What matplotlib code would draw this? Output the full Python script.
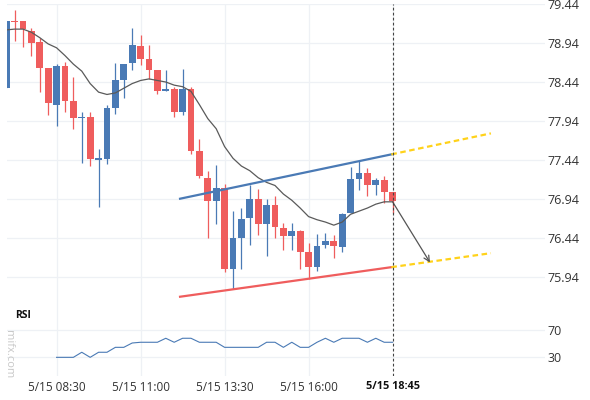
import numpy as np
import matplotlib
matplotlib.use('Agg')
import matplotlib.pyplot as plt

plt.rcParams['font.family'] = ['Open Sans', 'DejaVu Sans']

# Datos (velas de 15 min, indice 0 = primera vela)
opens = [78.36, 79.23, 79.22, 79.10, 78.95, 78.62, 78.15, 78.65, 78.19, 77.98,
         77.99, 77.45, 77.45, 78.10, 78.47, 78.68, 78.90, 78.73, 78.60, 78.32,
         78.35, 78.05, 78.35, 77.55, 77.21, 76.91, 77.08, 76.04, 76.44, 76.69,
         76.94, 76.61, 76.86, 76.56, 76.46, 76.52, 76.25, 76.06, 76.34, 76.40,
         76.32, 76.75, 77.19, 77.27, 77.12, 77.18, 77.02]
highs = [79.23, 79.37, 79.22, 79.14, 79.00, 78.62, 78.67, 78.70, 78.51, 78.05,
         78.05, 77.58, 78.15, 78.69, 78.67, 79.13, 79.05, 78.91, 78.60, 78.60,
         78.37, 78.61, 78.38, 77.71, 77.30, 77.37, 77.13, 76.78, 76.82, 77.12,
         77.06, 76.93, 76.97, 76.63, 76.63, 76.54, 76.37, 76.48, 76.50, 76.47,
         76.76, 77.35, 77.42, 77.34, 77.20, 77.23, 77.02]
lows = [78.36, 78.97, 78.89, 78.78, 78.31, 78.01, 77.87, 78.05, 77.83, 77.40,
        77.36, 76.83, 77.39, 78.03, 78.23, 78.60, 78.66, 78.48, 78.28, 78.32,
        77.99, 78.02, 77.52, 77.20, 76.44, 76.61, 76.00, 75.78, 76.04, 76.35,
        76.47, 76.21, 76.43, 76.28, 76.28, 76.04, 75.91, 76.01, 76.31, 76.18,
        76.25, 76.75, 77.05, 76.98, 76.99, 76.88, 76.75]
closes = [79.23, 79.22, 79.12, 78.94, 78.62, 78.17, 78.65, 78.20, 77.98, 77.985,
          77.45, 77.455, 78.10, 78.47, 78.67, 78.91, 78.73, 78.59, 78.32, 78.35,
          78.05, 78.35, 77.55, 77.23, 76.91, 77.08, 76.04, 76.44, 76.68, 76.94,
          76.61, 76.86, 76.58, 76.46, 76.52, 76.25, 76.06, 76.33, 76.40, 76.33,
          76.74, 77.19, 77.27, 77.12, 77.18, 77.03, 76.91]
ma = [79.11, 79.12, 79.12, 79.08, 79.01, 78.93, 78.88, 78.78, 78.67, 78.58,
      78.42, 78.31, 78.28, 78.30, 78.36, 78.42, 78.46, 78.48, 78.46, 78.44,
      78.40, 78.38, 78.32, 78.15, 77.97, 77.84, 77.61, 77.46, 77.36, 77.30,
      77.21, 77.15, 77.11, 77.00, 76.92, 76.82, 76.71, 76.67, 76.64, 76.60,
      76.64, 76.74, 76.78, 76.82, 76.87, 76.90, 76.90]

# RSI (empieza en la vela 6)
rsi_start = 6
rsi = [29, 29, 29, 36.6, 29, 36.6, 36.6, 44, 44, 50.5,
       51.6, 51.6, 51.6, 57.6, 51.6, 57.6, 57.6, 51.6, 51.6, 51.6,
       44, 44, 44, 44, 44, 51.6, 51.6, 44, 51.6, 44,
       44, 51.6, 57.6, 51.6, 57.6, 57.6, 57.6, 51.6, 57.6, 51.6, 51.6]

# Lineas de tendencia y proyeccion
res_x = [20.7, 45.85]
res_y = [76.94, 77.51]
res_proj_x = [45.85, 57.7]
res_proj_y = [77.51, 77.78]
sup_x = [20.7, 45.85]
sup_y = [75.68, 76.06]
sup_proj_x = [45.85, 57.7]
sup_proj_y = [76.06, 76.24]
arrow_start = (46.0, 76.90)
arrow_end = (50.45, 76.12)

time_ticks = [6, 16, 26, 36, 46]
time_labels = ['5/15 08:30', '5/15 11:00', '5/15 13:30', '5/15 16:00', '5/15 18:45']
price_ticks = [75.94, 76.44, 76.94, 77.44, 77.94, 78.44, 78.94, 79.44]
rsi_ticks = [30, 70]
current_idx = 46

UP = '#4a7ab5'
DOWN = '#ef5d5d'
GRID = '#eef1f5'
TXT = '#333333'

fig = plt.figure(figsize=(5.9, 4), dpi=100, facecolor='white')
ax = fig.add_axes([7/590, 1-300/400, 538/590, 296/400])
ax_rsi = fig.add_axes([7/590, 1-376/400, 538/590, 76/400], sharex=ax)

# ==================== Velas ====================
x = np.arange(len(opens))
o = np.array(opens)
c = np.array(closes)
colors = [UP if cc >= oo else DOWN for oo, cc in zip(o, c)]
ax.vlines(x, lows, highs, colors=colors, linewidth=0.9, zorder=3)
body = np.maximum(np.abs(c - o), 0.014)
bottom = np.minimum(o, c) - np.where(np.abs(c - o) < 0.014, 0.007, 0)
ax.bar(x, body, bottom=bottom, width=0.8, color=colors, linewidth=0, zorder=4)

ax.plot(x, ma, color='#5a5a5a', linewidth=0.9, zorder=5)

# Tendencias
ax.plot(res_x, res_y, color=UP, linewidth=1.6, zorder=6)
ax.plot(sup_x, sup_y, color=DOWN, linewidth=1.6, zorder=6)
ax.plot(res_proj_x, res_proj_y, color='#ffd21a', linewidth=1.6,
        linestyle=(0, (2.5, 1.6)), zorder=6)
ax.plot(sup_proj_x, sup_proj_y, color='#ffd21a', linewidth=1.6,
        linestyle=(0, (2.5, 1.6)), zorder=6)
ax.annotate('', xy=arrow_end, xytext=arrow_start,
            arrowprops=dict(arrowstyle='->', color='#555555', lw=0.9,
                            mutation_scale=10, shrinkA=0, shrinkB=0), zorder=7)

ax.set_xlim(0.1, 64.14)
ax.set_ylim(75.638, 79.443)
ax.yaxis.tick_right()
ax.set_yticks(price_ticks)
ax.set_yticklabels([f'{p:.2f}' for p in price_ticks])
ax.tick_params(axis='y', length=0, pad=1.5, labelsize=9, labelcolor=TXT)
ax.tick_params(axis='x', length=0, labelbottom=False)
ax.set_xticks(time_ticks[:-1])
ax.grid(True, color=GRID, linewidth=0.9)
ax.set_axisbelow(True)
for s in ax.spines.values():
    s.set_visible(False)
ax.axvline(current_idx, color='#444444', linewidth=0.8,
           linestyle=(0, (2.5, 2)), zorder=8)

# ==================== RSI ====================
xr = np.arange(rsi_start, rsi_start + len(rsi))
ax_rsi.plot(xr, rsi, color=UP, linewidth=0.8)
ax_rsi.set_ylim(1, 115)
ax_rsi.yaxis.tick_right()
ax_rsi.set_yticks(rsi_ticks)
ax_rsi.tick_params(axis='y', length=0, pad=1.5, labelsize=9, labelcolor=TXT)
ax_rsi.set_xticks(time_ticks)
ax_rsi.set_xticklabels(time_labels)
ax_rsi.tick_params(axis='x', length=0, pad=3.5, labelsize=8.5, labelcolor=TXT)
last = ax_rsi.get_xticklabels()[-1]
last.set_fontweight('bold')
last.set_fontsize(7.8)
last.set_color('#111111')
ax_rsi.grid(True, color=GRID, linewidth=0.9)
ax_rsi.xaxis.get_gridlines()[-1].set_visible(False)
for s in ax_rsi.spines.values():
    s.set_visible(False)
ax_rsi.axvline(current_idx, color='#444444', linewidth=0.8,
               linestyle=(0, (2.5, 2)), zorder=8)

fig.text(15/590, 1-316/400, 'RSI', fontsize=7.5, fontweight='bold',
         color='#111111', ha='left', va='center')
fig.text(8.5/590, 1-354/400, 'mifx.com', fontsize=8, color='#c8c8c8',
         rotation=-90, ha='center', va='center')

plt.savefig('out.png', dpi=100, facecolor='white')
